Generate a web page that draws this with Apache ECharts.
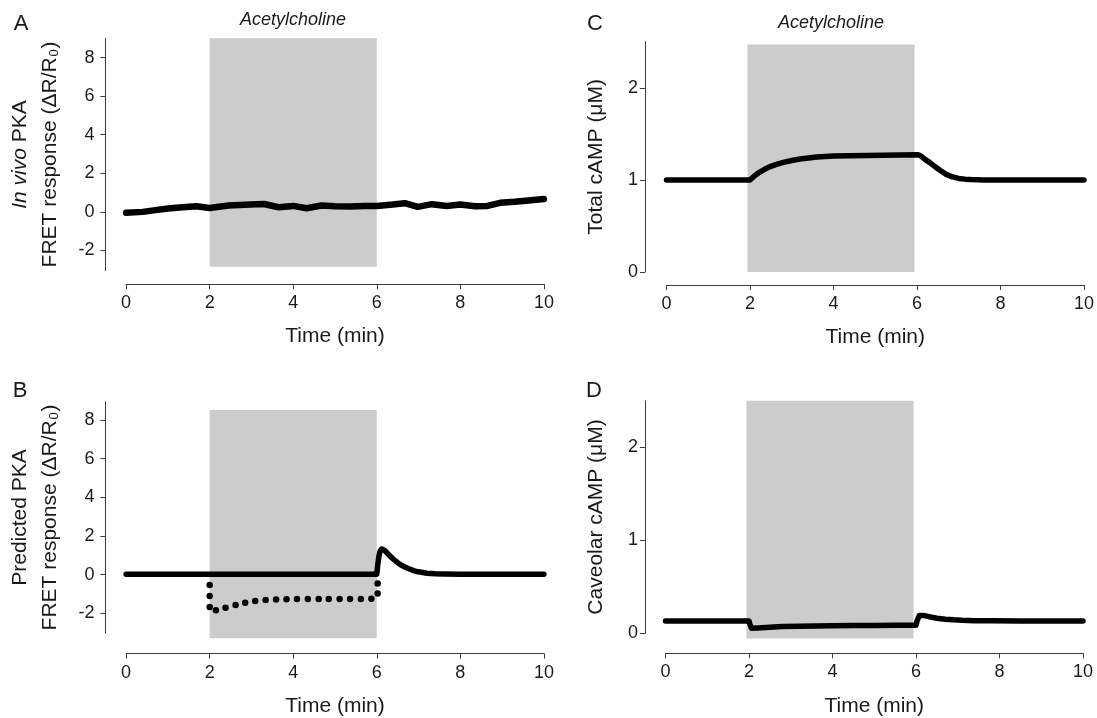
<!DOCTYPE html>
<html>
<head>
<meta charset="utf-8">
<script src="https://cdn.jsdelivr.net/npm/echarts@6.0.0/dist/echarts.min.js"></script>
<style>
html, body { margin: 0; padding: 0; background: #fff; }
#chart { width: 1097px; height: 718px; }
</style>
</head>
<body>
<div id="chart"></div>
<script>
// tick labels
const timeTicks = [0, 2, 4, 6, 8, 10]
const fretTicks = [-2, 0, 2, 4, 6, 8]
const campTicks = [0, 1, 2]

// A - in vivo PKA FRET response
const timeA = [0, 0.4, 0.7, 1, 1.35, 1.68, 2, 2.45, 2.97, 3.3, 3.65, 4, 4.32, 4.68, 5, 5.36, 5.7, 6,
  6.38, 6.67, 6.98, 7.32, 7.67, 8, 8.35, 8.65, 8.95, 9.3, 9.63, 10]
const fretA = [-0.05, 0, 0.09, 0.17, 0.24, 0.29, 0.2, 0.33, 0.38, 0.41, 0.24, 0.31, 0.19, 0.33, 0.29, 0.28, 0.31, 0.31,
  0.38, 0.45, 0.26, 0.4, 0.31, 0.38, 0.29, 0.31, 0.47, 0.52, 0.59, 0.67]

// B - predicted PKA FRET response (solid) and the dotted curve
const timeB = [0, 2, 4, 6, 6.02, 6.05, 6.08, 6.12, 6.16, 6.2, 6.25, 6.3, 6.4, 6.5, 6.6, 6.75, 6.9, 7, 7.2, 7.4, 7.6, 8, 9, 10]
const fretB = [0.03, 0.03, 0.03, 0.03, 0.45, 0.95, 1.22, 1.33, 1.31, 1.24, 1.12, 1.0, 0.8, 0.62, 0.48, 0.32, 0.2, 0.15,
  0.08, 0.05, 0.04, 0.03, 0.03, 0.03]
const dotTimeB = [2, 2, 2, 2.15, 2.38, 2.62, 2.85, 3.09, 3.34, 3.59, 3.84, 4.09, 4.35, 4.61, 4.85, 5.11, 5.36, 5.62, 5.87, 6.02, 6.02]
const dotFretB = [-0.53, -1.1, -1.67, -1.84, -1.71, -1.57, -1.45, -1.36, -1.31, -1.28, -1.27, -1.26, -1.26, -1.26,
  -1.25, -1.25, -1.25, -1.25, -1.24, -0.97, -0.45]

// C - total cAMP (uM)
const timeC = [0, 1, 2, 2.1, 2.2, 2.35, 2.5, 2.65, 2.8, 3, 3.2, 3.4, 3.6, 3.8, 4, 4.4, 4.8, 5.2, 5.6, 6,
  6.05, 6.12, 6.2, 6.3, 6.4, 6.55, 6.7, 6.85, 7, 7.15, 7.3, 7.6, 8, 9, 10]
const campC = [1, 1, 1, 1.04, 1.075, 1.115, 1.147, 1.17, 1.19, 1.21, 1.227, 1.238, 1.248, 1.255, 1.26, 1.263, 1.266, 1.268, 1.27, 1.272,
  1.27, 1.25, 1.22, 1.19, 1.155, 1.104, 1.06, 1.032, 1.016, 1.008, 1.003, 1, 1, 1, 1]

// D - caveolar cAMP (uM)
const timeD = [0, 1, 2, 2.02, 2.06, 2.2, 2.5, 2.8, 3.2, 3.6, 4, 4.5, 5, 5.5, 6, 6.03, 6.08, 6.12, 6.2, 6.35,
  6.5, 6.7, 6.9, 7.1, 7.4, 7.8, 8.5, 9, 10]
const campD = [0.133, 0.133, 0.133, 0.1, 0.055, 0.058, 0.065, 0.072, 0.076, 0.079, 0.082, 0.084, 0.085, 0.086, 0.086, 0.14,
  0.19, 0.197, 0.19, 0.175, 0.162, 0.152, 0.145, 0.14, 0.136, 0.134, 0.133, 0.133, 0.133]

// acetylcholine window: [start, end, top, bottom] per panel
const achA = [2, 6, 9, -2.85]
const achB = [2, 6, 8.52, -3.29]
const achC = [1.94, 5.94, 2.47, 0]
const achD = [1.94, 5.94, 2.5, -0.055]

const pairs = (xs, ys) => xs.map((x, i) => [x, ys[i]])

const font = 'Liberation Sans'
const ink = '#1a1a1a'
const axisColor = '#3c3c3c'
const shade = '#cccccc'

function xAxisFor(gridIndex, offset) {
  return {
    gridIndex,
    type: 'value',
    min: 0,
    max: 10,
    interval: 2,
    offset,
    axisLine: { onZero: false, lineStyle: { color: axisColor, width: 1 } },
    axisTick: { length: 5, lineStyle: { color: axisColor } },
    axisLabel: { fontSize: 18, color: ink, margin: 10, fontFamily: font },
    splitLine: { show: false },
    name: 'Time (min)',
    nameLocation: 'middle',
    nameGap: 42,
    nameTextStyle: { fontSize: 21, color: ink, fontFamily: font }
  }
}

function yAxisFor(gridIndex, min, max, ticks, offset, margin, name, gap) {
  return {
    gridIndex,
    type: 'value',
    min,
    max,
    offset,
    axisLine: { show: true, onZero: false, lineStyle: { color: axisColor, width: 1 } },
    axisTick: { show: true, length: 5, customValues: ticks, lineStyle: { color: axisColor } },
    axisLabel: { fontSize: 18, color: ink, margin, customValues: ticks, fontFamily: font },
    splitLine: { show: false },
    name,
    nameLocation: 'middle',
    nameRotate: 90,
    nameGap: gap,
    nameTextStyle: {
      fontSize: 21,
      lineHeight: 30,
      color: ink,
      fontFamily: font,
      rich: { it: { fontStyle: 'italic', fontSize: 21, lineHeight: 30, color: ink, fontFamily: font } }
    }
  }
}

function lineFor(i, data, width) {
  return {
    type: 'line',
    xAxisIndex: i,
    yAxisIndex: i,
    data,
    symbol: 'none',
    z: 3,
    lineStyle: { color: '#000', width, cap: 'round', join: 'round' }
  }
}

// gray stimulus box, drawn through the axes (not clamped to the plot)
function shadeFor(i, win) {
  return {
    type: 'custom',
    xAxisIndex: i,
    yAxisIndex: i,
    z: 1,
    clip: false,
    silent: true,
    data: [win],
    encode: { x: [0, 1], y: [2, 3] },
    renderItem(params, api) {
      const p0 = api.coord([api.value(0), api.value(2)])
      const p1 = api.coord([api.value(1), api.value(3)])
      return {
        type: 'rect',
        shape: { x: p0[0], y: p0[1], width: p1[0] - p0[0], height: p1[1] - p0[1] },
        style: { fill: shade }
      }
    }
  }
}

const chart = echarts.init(document.getElementById('chart'))

chart.setOption({
  animation: false,
  backgroundColor: '#fff',
  textStyle: { fontFamily: font },
  grid: [
    { left: 126.1, top: 38.3, width: 417.8, height: 232.4 },
    { left: 126.1, top: 401.7, width: 417.8, height: 231.6 },
    { left: 666.5, top: 41.7, width: 417.8, height: 230.3 },
    { left: 665.5, top: 400.7, width: 417.5, height: 232.6 }
  ],
  xAxis: [xAxisFor(0, 13.5), xAxisFor(1, 20.3), xAxisFor(2, 13), xAxisFor(3, 20)],
  yAxis: [
    yAxisFor(0, -3.05, 9, fretTicks, 20.7, 11, '{it|In vivo} PKA\nFRET response (ΔR/R₀)', 40),
    yAxisFor(1, -3.03, 8.95, fretTicks, 20.7, 11, 'Predicted PKA\nFRET response (ΔR/R₀)', 40),
    yAxisFor(2, 0, 2.5, campTicks, 21.6, 7, 'Total cAMP (μM)', 34),
    yAxisFor(3, 0, 2.5, campTicks, 20.6, 7, 'Caveolar cAMP (μM)', 34)
  ],
  series: [
    shadeFor(0, achA),
    shadeFor(1, achB),
    shadeFor(2, achC),
    shadeFor(3, achD),
    lineFor(0, pairs(timeA, fretA), 6.5),
    lineFor(1, pairs(timeB, fretB), 5.5),
    {
      type: 'scatter',
      xAxisIndex: 1,
      yAxisIndex: 1,
      data: pairs(dotTimeB, dotFretB),
      symbol: 'circle',
      symbolSize: 6.5,
      z: 3,
      itemStyle: { color: '#000', opacity: 1 }
    },
    lineFor(2, pairs(timeC, campC), 5.5),
    lineFor(3, pairs(timeD, campD), 5.5)
  ],
  graphic: [
    { type: 'text', x: 21, y: 24, style: { text: 'A', fontSize: 22, fontFamily: font, fill: ink, align: 'center', verticalAlign: 'middle' } },
    { type: 'text', x: 20, y: 391, style: { text: 'B', fontSize: 22, fontFamily: font, fill: ink, align: 'center', verticalAlign: 'middle' } },
    { type: 'text', x: 595, y: 24, style: { text: 'C', fontSize: 22, fontFamily: font, fill: ink, align: 'center', verticalAlign: 'middle' } },
    { type: 'text', x: 594, y: 391, style: { text: 'D', fontSize: 22, fontFamily: font, fill: ink, align: 'center', verticalAlign: 'middle' } },
    { type: 'text', x: 293, y: 20, style: { text: 'Acetylcholine', fontSize: 18, fontStyle: 'italic', fontFamily: font, fill: ink, align: 'center', verticalAlign: 'middle' } },
    { type: 'text', x: 831, y: 23, style: { text: 'Acetylcholine', fontSize: 18, fontStyle: 'italic', fontFamily: font, fill: ink, align: 'center', verticalAlign: 'middle' } }
  ]
})
</script>
</body>
</html>
